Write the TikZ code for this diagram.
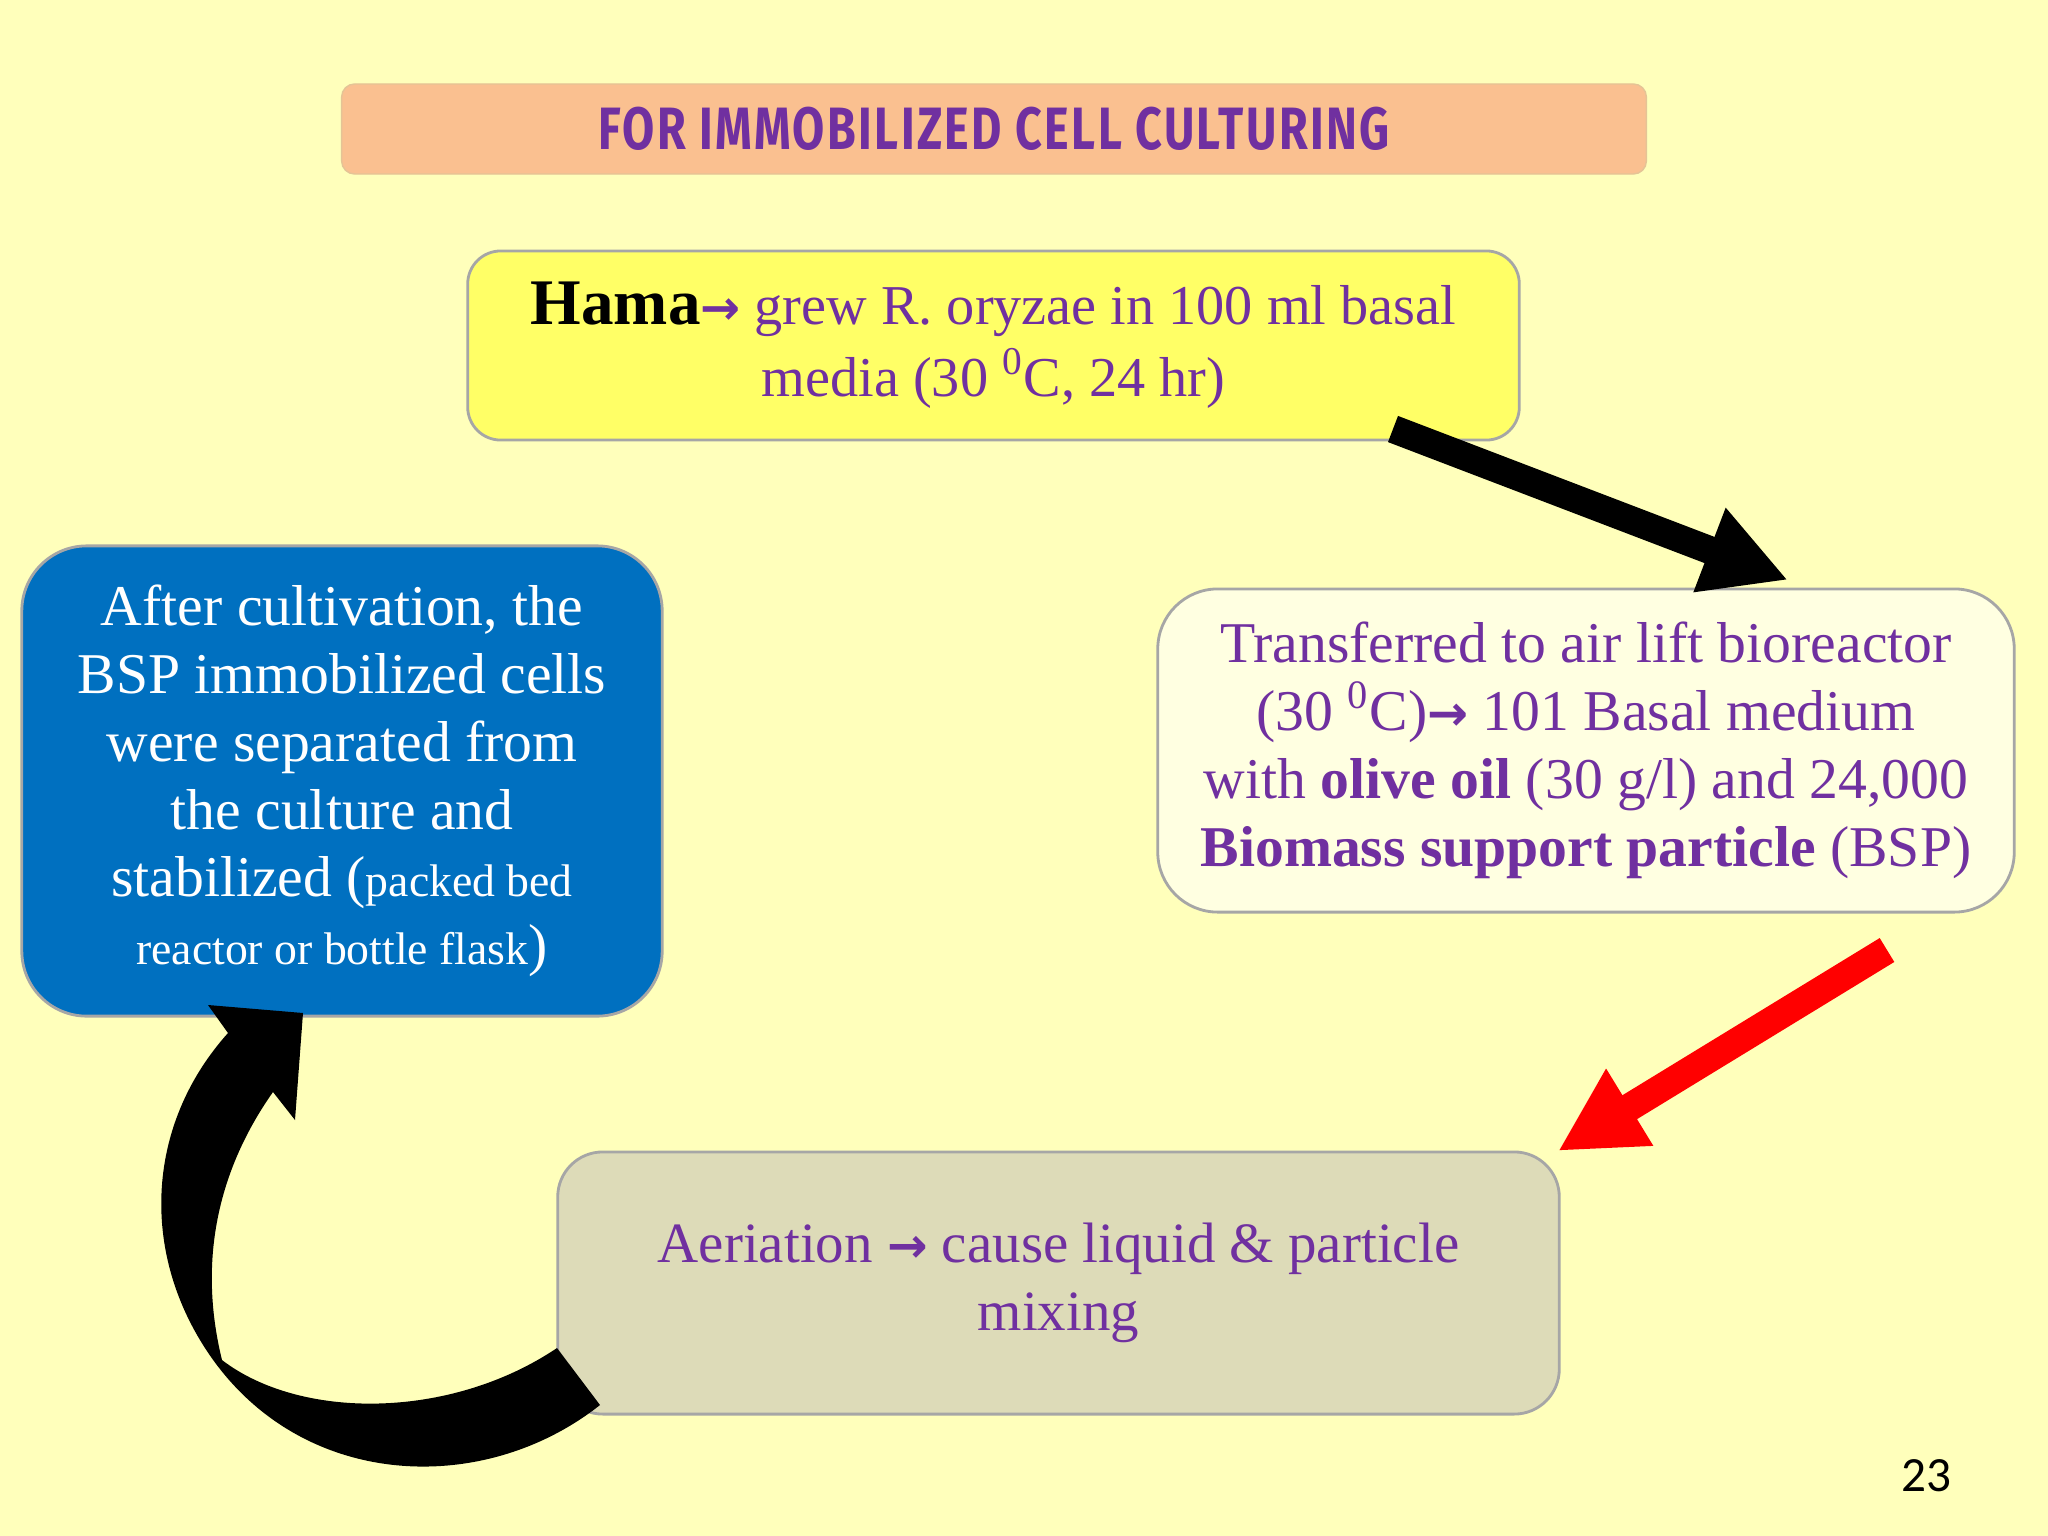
\documentclass[tikz,border=0pt]{standalone}
\usepackage{fontspec}
\setmainfont{Liberation Serif}
\newfontfamily\titlefont[FakeStretch=0.78,LetterSpace=4]{Fira Sans}
\newfontfamily\pagefont{Carlito}
\newfontfamily\arrowfont{DejaVu Sans}
\newcommand{\goarrow}{{\arrowfont\bfseries\scalebox{0.85}{→}}}
\usetikzlibrary{arrows.meta, positioning}
\definecolor{slidebg}{RGB}{255,255,187}
\definecolor{peach}{RGB}{250,192,144}
\definecolor{peachedge}{RGB}{228,196,150}
\definecolor{textpurple}{RGB}{112,48,160}
\definecolor{hamayellow}{RGB}{255,255,102}
\definecolor{paleyellow}{RGB}{255,255,225}
\definecolor{cellblue}{RGB}{0,112,192}
\definecolor{khaki}{RGB}{221,219,184}
\definecolor{boxedge}{RGB}{166,166,166}

\begin{document}
\begin{tikzpicture}[x=0.01cm, y=-0.01cm,
  stagebox/.style={draw=boxedge, line width=0.8pt, inner sep=0pt, align=center, text=textpurple,
    font=\fontsize{16.4}{19.3}\selectfont},
  blockarrow/.style={line width=2.8mm, -{Triangle[width=8.4mm, length=8.4mm]}}]
  % slide
  \fill[slidebg] (0,0) rectangle (2048,1536);
  \useasboundingbox (0,0) rectangle (2048,1536);

  % title bar
  \node[fill=peach, draw=peachedge, rounded corners=0.13cm, minimum width=13.04cm, minimum height=0.9cm,
    text=textpurple, font=\titlefont\bfseries\fontsize{17}{20}\selectfont] (title) at (994,129) {FOR IMMOBILIZED CELL CULTURING};

  % stages
  \node[stagebox, fill=hamayellow, rounded corners=0.33cm, minimum width=10.51cm, minimum height=1.89cm,
    font=\fontsize{16}{20.5}\selectfont] (hama) at (993.5,345.5) {
    {\color{black}\bfseries\fontsize{18.5}{20.5}\selectfont Hama}\goarrow{} grew R. oryzae in 100 ml basal\\
    media (30 \textsuperscript{0}C, 24 hr)
  };
  \node[stagebox, fill=paleyellow, rounded corners=0.6cm, minimum width=8.56cm, minimum height=3.23cm] (transfer) at (1586,750.5) {
    Transferred to air lift bioreactor\\
    (30 \textsuperscript{0}C)\goarrow{} 101 Basal medium\\
    with \textbf{olive oil} (30 g/l) and 24,000\\
    \textbf{Biomass support particle} (BSP)
  };
  \node[stagebox, fill=khaki, rounded corners=0.45cm, minimum width=10.01cm, minimum height=2.62cm,
    font=\fontsize{16.2}{19.3}\selectfont] (aeration) at (1058.5,1283) {
    Aeriation \goarrow{} cause liquid \& particle\\
    mixing
  };
  \node[stagebox, fill=cellblue, text=white, rounded corners=0.65cm, minimum width=6.4cm, minimum height=4.7cm] (harvest) at (342,781) {
    After cultivation, the\\
    BSP immobilized cells\\
    were separated from\\
    the culture and\\
    stabilized ({\fontsize{13}{19.3}\selectfont packed bed}\\
    {\fontsize{13}{19.3}\selectfont reactor or bottle flask})
  };

  % arrows
  \coordinate (hamaout) at (1393,429);
  \coordinate (transferin) at (1788,580);
  \coordinate (transferout) at (1887,950);
  \coordinate (aerationin) at (1558,1151);
  \draw[blockarrow, black] (hamaout) -- (transferin);
  \draw[blockarrow, red] (transferout) -- (aerationin);

  % curved return arrow
  \fill[black] (600,1405) .. controls (480,1500) and (290,1490) .. (200,1340)
    .. controls (140,1240) and (150,1120) .. (228,1033)
    -- (208,1005) -- (303,1013) -- (295,1120) -- (273,1092)
    .. controls (225,1160) and (195,1250) .. (222,1360)
    .. controls (300,1420) and (450,1420) .. (557,1348) -- cycle;

  % page number
  \node[font=\pagefont\fontsize{14}{16}\selectfont] (pagenum) at (1926,1476) {23};
\end{tikzpicture}
\end{document}
